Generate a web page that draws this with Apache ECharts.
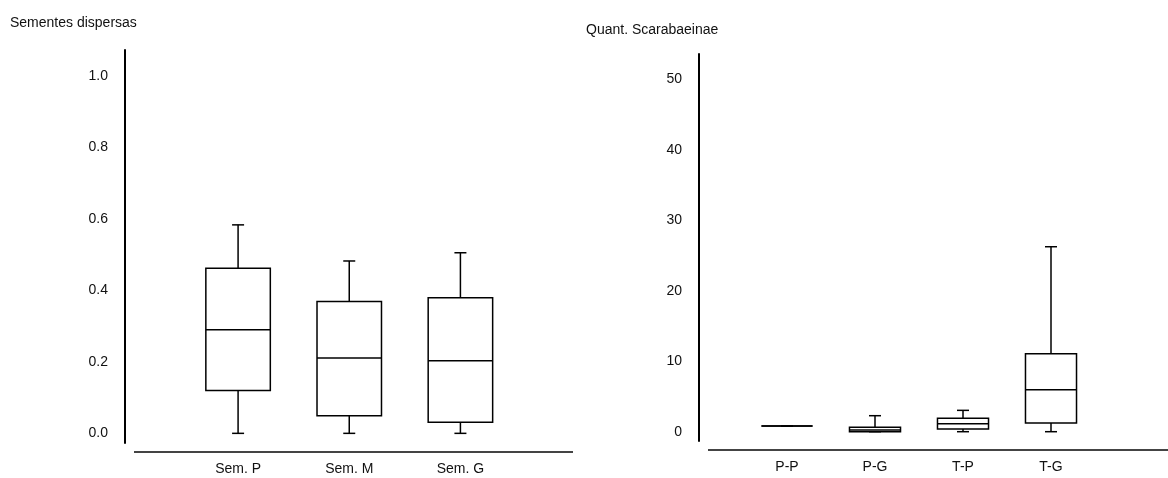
<!DOCTYPE html>
<html>
<head>
<meta charset="utf-8">
<script src="https://cdn.jsdelivr.net/npm/echarts@6/dist/echarts.min.js"></script>
<style>
  html, body { margin: 0; padding: 0; background: #fff; }
  #main { width: 1168px; height: 478px; }
</style>
</head>
<body>
<div id="main"></div>
<script>
var chartDom = document.getElementById('main');
var myChart = echarts.init(chartDom);

// left panel: seeds dispersed  [min, q1, median, q3, max]
var semCats = ['Sem. P', 'Sem. M', 'Sem. G'];
var semBoxes = [
    [0, 0.120, 0.290, 0.462, 0.583],
    [0, 0.049, 0.211, 0.369, 0.482],
    [0, 0.031, 0.203, 0.379, 0.505]
];
var semTicks = [0, 0.2, 0.4, 0.6, 0.8, 1.0];

// right panel: Scarabaeinae count
var scarCats = ['P-P', 'P-G', 'T-P', 'T-G'];
var scarBoxes = [
    [0.8, 0.8, 0.8, 0.8, 0.8],
    [0, 0, 0.25, 0.62, 2.27],
    [0, 0.38, 1.14, 1.9, 3.03],
    [0, 1.23, 5.96, 11.07, 26.25]
];
var scarTicks = [0, 10, 20, 30, 40, 50];

var FONT = '"Liberation Sans", Arial, sans-serif';

function toRows(boxes) {
    return boxes.map(function (b, i) {
        return [i].concat(b);
    });
}

function renderBox(params, api) {
    var idx = api.value(0);
    var pMin = api.coord([idx, api.value(1)]);
    var pQ1 = api.coord([idx, api.value(2)]);
    var pMed = api.coord([idx, api.value(3)]);
    var pQ3 = api.coord([idx, api.value(4)]);
    var pMax = api.coord([idx, api.value(5)]);
    var band = api.size([1, 0])[0];
    var half = band * 0.29;
    var cap = 6;
    var x = pMed[0];
    var st = { stroke: '#000', lineWidth: 1.5, fill: null };
    return {
        type: 'group',
        children: [
            { type: 'line', shape: { x1: x, y1: pQ3[1], x2: x, y2: pMax[1] }, style: st },
            { type: 'line', shape: { x1: x - cap, y1: pMax[1], x2: x + cap, y2: pMax[1] }, style: st },
            { type: 'line', shape: { x1: x, y1: pQ1[1], x2: x, y2: pMin[1] }, style: st },
            { type: 'line', shape: { x1: x - cap, y1: pMin[1], x2: x + cap, y2: pMin[1] }, style: st },
            {
                type: 'rect',
                shape: { x: x - half, y: pQ3[1], width: half * 2, height: pQ1[1] - pQ3[1] },
                style: { stroke: '#000', lineWidth: 1.5, fill: '#fff' }
            },
            { type: 'line', shape: { x1: x - half, y1: pMed[1], x2: x + half, y2: pMed[1] }, style: st }
        ]
    };
}

var labelStyle = { color: '#111', fontFamily: FONT, fontSize: 14 };

var option = {
    animation: false,
    backgroundColor: '#fff',
    title: [
        { text: 'Sementes dispersas', left: 10, top: 16, padding: 0,
          textStyle: { color: '#111', fontFamily: FONT, fontSize: 14, fontWeight: 'normal' } },
        { text: 'Quant. Scarabaeinae', left: 586, top: 23, padding: 0,
          textStyle: { color: '#111', fontFamily: FONT, fontSize: 14, fontWeight: 'normal' } }
    ],
    grid: [
        { left: 182.5, top: 50, width: 333.5, height: 393 },
        { left: 743, top: 54, width: 352, height: 387 }
    ],
    xAxis: [
        {
            gridIndex: 0, type: 'category', data: semCats, boundaryGap: true,
            axisLine: { show: false }, axisTick: { show: false },
            axisLabel: Object.assign({ margin: 19 }, labelStyle)
        },
        {
            gridIndex: 1, type: 'category', data: scarCats, boundaryGap: true,
            axisLine: { show: false }, axisTick: { show: false },
            axisLabel: Object.assign({ margin: 19 }, labelStyle)
        }
    ],
    yAxis: [
        {
            gridIndex: 0, type: 'value', min: -0.027, max: 1.072, offset: 57.5,
            splitLine: { show: false }, axisTick: { show: false },
            axisLine: { show: true, lineStyle: { color: '#000', width: 2 } },
            axisLabel: Object.assign({
                margin: 17, customValues: semTicks,
                formatter: function (v) { return v.toFixed(1); }
            }, labelStyle)
        },
        {
            gridIndex: 1, type: 'value', min: -1.32, max: 53.6, offset: 44,
            splitLine: { show: false }, axisTick: { show: false },
            axisLine: { show: true, lineStyle: { color: '#000', width: 2 } },
            axisLabel: Object.assign({
                margin: 17, customValues: scarTicks,
                formatter: function (v) { return String(v); }
            }, labelStyle)
        }
    ],
    graphic: [
        { type: 'line', shape: { x1: 134, y1: 452, x2: 573, y2: 452 },
          style: { stroke: '#444', lineWidth: 2 } },
        { type: 'line', shape: { x1: 708, y1: 450, x2: 1168, y2: 450 },
          style: { stroke: '#444', lineWidth: 2 } }
    ],
    series: [
        {
            type: 'custom', xAxisIndex: 0, yAxisIndex: 0,
            renderItem: renderBox,
            encode: { x: 0, y: [1, 2, 3, 4, 5] },
            data: toRows(semBoxes)
        },
        {
            type: 'custom', xAxisIndex: 1, yAxisIndex: 1,
            renderItem: renderBox,
            encode: { x: 0, y: [1, 2, 3, 4, 5] },
            data: toRows(scarBoxes)
        }
    ]
};

myChart.setOption(option);
</script>
</body>
</html>
